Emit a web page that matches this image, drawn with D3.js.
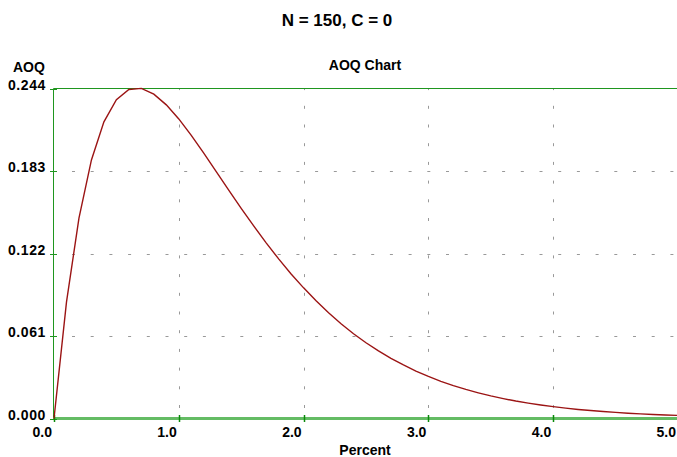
<!DOCTYPE html>
<html>
<head>
<meta charset="utf-8">
<script src="https://cdn.jsdelivr.net/npm/d3@7"></script>
<style>
  body { margin: 0; background: #fff; }
  text { font-family: "Liberation Sans", Arial, sans-serif; font-weight: bold; fill: #000; }
</style>
</head>
<body>
<svg id="chart" width="677" height="457"></svg>
<script>
// percent defective (x) and AOQ
var percent = [0.0, 0.1, 0.2, 0.3, 0.4, 0.5, 0.6, 0.7, 0.8, 0.9,
  1.0, 1.1, 1.2, 1.3, 1.4, 1.5, 1.6, 1.7, 1.8, 1.9,
  2.0, 2.1, 2.2, 2.3, 2.4, 2.5, 2.6, 2.7, 2.8, 2.9,
  3.0, 3.1, 3.2, 3.3, 3.4, 3.5, 3.6, 3.7, 3.8, 3.9,
  4.0, 4.1, 4.2, 4.3, 4.4, 4.5, 4.6, 4.7, 4.8, 4.9, 5.0];
var aoq = [0.0000, 0.0861, 0.1481, 0.1912, 0.2193, 0.2357, 0.2433, 0.2441, 0.2398, 0.2319,
  0.2215, 0.2093, 0.1962, 0.1826, 0.1689, 0.1554, 0.1424, 0.1299, 0.1180, 0.1069,
  0.0966, 0.0870, 0.0782, 0.0701, 0.0627, 0.0560, 0.0500, 0.0445, 0.0396, 0.0351,
  0.0311, 0.0275, 0.0243, 0.0215, 0.0190, 0.0167, 0.0147, 0.0129, 0.0114, 0.0100,
  0.0088, 0.0077, 0.0067, 0.0059, 0.0052, 0.0045, 0.0039, 0.0034, 0.0030, 0.0026, 0.0023];
var xTicks = [0, 1, 2, 3, 4, 5];
var yTicks = [0, 0.061, 0.122, 0.183, 0.244];

var svg = d3.select("#chart");

var x = d3.scaleLinear().domain([0, 5]).range([54, 678]);
var y = d3.scaleLinear().domain([0, 0.244]).range([418.5, 88.5]);

// titles
svg.append("text")
	.attr("x", 337).attr("y", 26)
	.attr("text-anchor", "middle")
	.style("font-size", "17px")
	.text("N = 150, C = 0");
svg.append("text")
	.attr("x", 365).attr("y", 70)
	.attr("text-anchor", "middle")
	.style("font-size", "14px")
	.text("AOQ Chart");
svg.append("text")
	.attr("x", 13).attr("y", 72)
	.style("font-size", "14px")
	.text("AOQ");
svg.append("text")
	.attr("x", 365).attr("y", 455)
	.attr("text-anchor", "middle")
	.style("font-size", "14px")
	.text("Percent");

// grid
svg.append("g").selectAll("line")
	.data(xTicks.filter(function(d) { return d > 0 && d < 5; }))
	.enter().append("line")
	.attr("x1", function(d) { return Math.round(x(d)) + 0.5; })
	.attr("x2", function(d) { return Math.round(x(d)) + 0.5; })
	.attr("y1", 418).attr("y2", 89)
	.attr("stroke", "#999")
	.attr("stroke-dasharray", "3 15.7")
	.attr("stroke-dashoffset", -10);
svg.append("g").selectAll("line")
	.data(yTicks.filter(function(d) { return d > 0 && d < 0.244; }))
	.enter().append("line")
	.attr("x1", 54).attr("x2", 678)
	.attr("y1", function(d) { return Math.round(y(d)) + 0.5; })
	.attr("y2", function(d) { return Math.round(y(d)) + 0.5; })
	.attr("stroke", "#999")
	.attr("stroke-dasharray", "3 15.7")
	.attr("stroke-dashoffset", -18);

// frame
svg.append("line")
	.attr("x1", 53.5).attr("x2", 678).attr("y1", 88.5).attr("y2", 88.5)
	.attr("stroke", "#1f961f");
svg.append("line")
	.attr("x1", 53.5).attr("x2", 53.5).attr("y1", 88.5).attr("y2", 419)
	.attr("stroke", "#1f961f");
svg.append("line")
	.attr("x1", 53).attr("x2", 678).attr("y1", 418.5).attr("y2", 418.5)
	.attr("stroke", "#64bc64").attr("stroke-width", 3);

// ticks
svg.append("g").selectAll("line")
	.data(yTicks)
	.enter().append("line")
	.attr("x1", 50).attr("x2", 57)
	.attr("y1", function(d) { return Math.round(y(d)) + 0.5; })
	.attr("y2", function(d) { return Math.round(y(d)) + 0.5; })
	.attr("stroke", "#1f961f");
svg.append("g").selectAll("line")
	.data(xTicks)
	.enter().append("line")
	.attr("x1", function(d) { return Math.round(x(d)) + 0.5; })
	.attr("x2", function(d) { return Math.round(x(d)) + 0.5; })
	.attr("y1", 415).attr("y2", 422)
	.attr("stroke", "#0a8a0a").attr("stroke-width", 1.5);

// tick labels
svg.append("g").selectAll("text")
	.data(yTicks)
	.enter().append("text")
	.attr("x", 46)
	.attr("y", function(d) { return y(d) + 1; })
	.attr("text-anchor", "end")
	.style("font-size", "14px")
	.style("letter-spacing", "0.6px")
	.text(function(d) { return d3.format(".3f")(d); });
svg.append("g").selectAll("text")
	.data(xTicks)
	.enter().append("text")
	.attr("x", function(d) { return x(d) - 2; })
	.attr("y", 437)
	.attr("text-anchor", "end")
	.style("font-size", "14px")
	.text(function(d) { return d3.format(".1f")(d); });

// curve
var line = d3.line()
	.x(function(d, i) { return x(percent[i]); })
	.y(function(d) { return y(d); });
svg.append("path")
	.datum(aoq)
	.attr("d", line)
	.attr("fill", "none")
	.attr("stroke", "#9b1414")
	.attr("stroke-width", 1.4);
</script>
</body>
</html>
